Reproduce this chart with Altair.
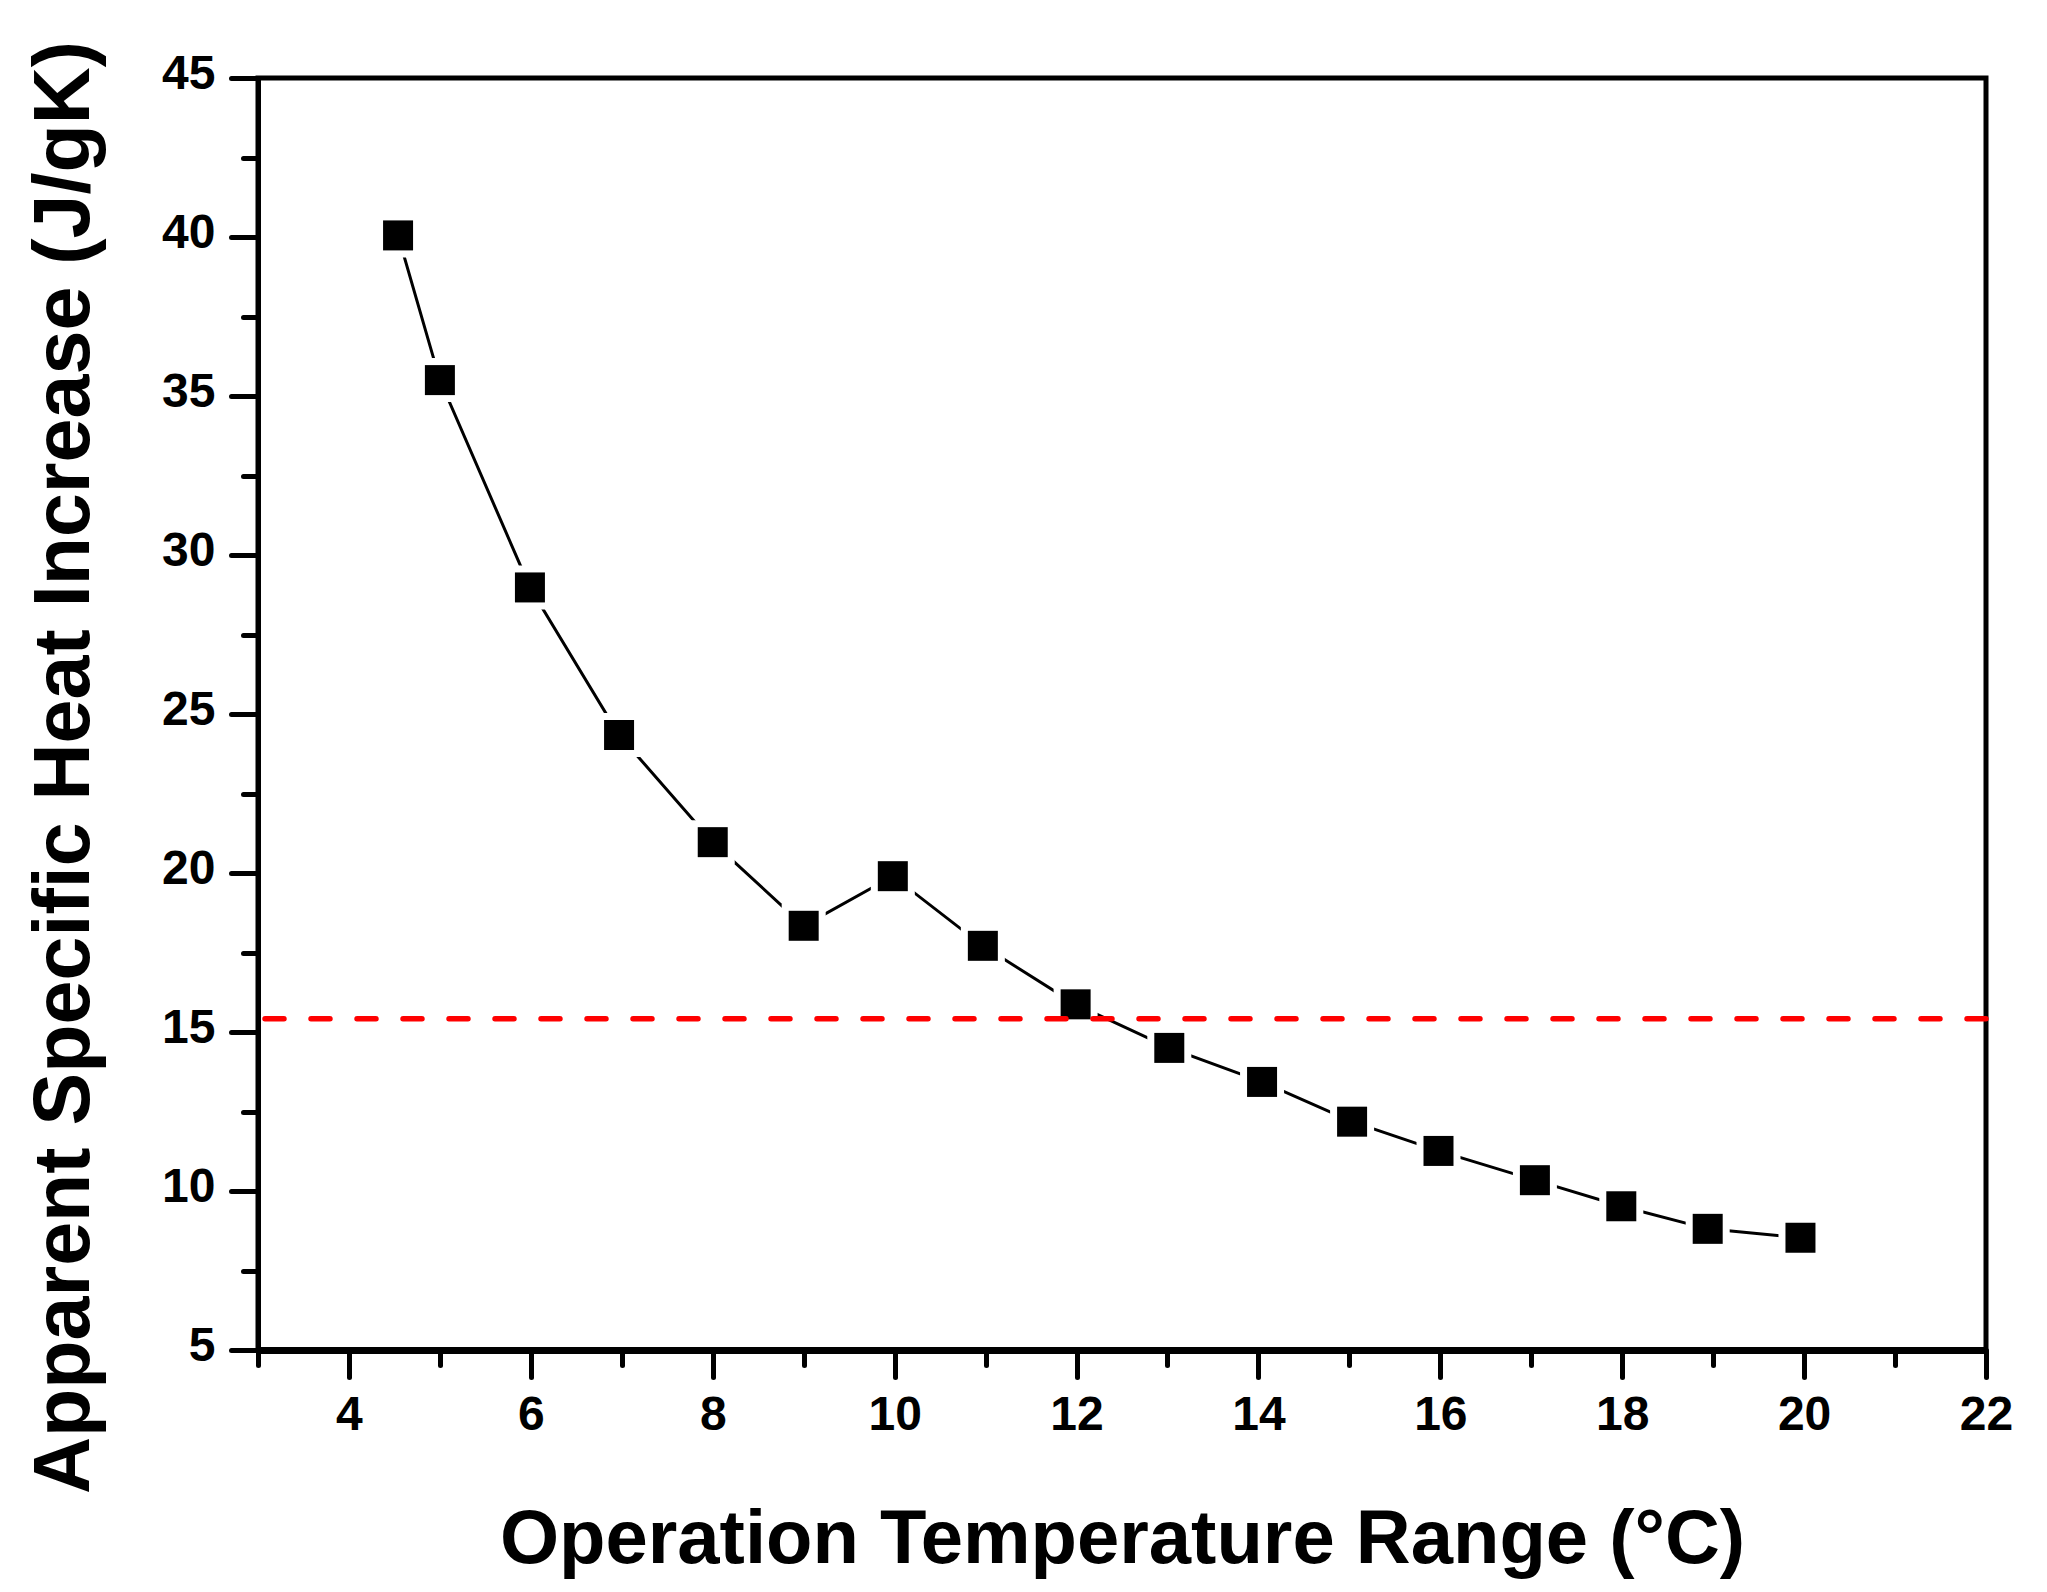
import altair as alt
import pandas as pd

# Data
temp_range = [4.54, 5.0, 5.99, 6.97, 8.0, 9.0, 9.98, 10.97, 11.99, 13.02,
              14.04, 15.03, 15.98, 17.04, 17.99, 18.94, 19.96]
heat_increase = [40.05, 35.5, 28.98, 24.34, 20.97, 18.34, 19.9, 17.71, 15.87, 14.5,
                 13.43, 12.18, 11.26, 10.34, 9.52, 8.81, 8.53]
reference_level = [15.42]

x_major = [4, 6, 8, 10, 12, 14, 16, 18, 20, 22]
x_minor = [3, 5, 7, 9, 11, 13, 15, 17, 19, 21]
y_major = [5, 10, 15, 20, 25, 30, 35, 40, 45]
y_minor = [7.5, 12.5, 17.5, 22.5, 27.5, 32.5, 37.5, 42.5]

x_title = "Operation Temperature Range (°C)"
y_title = "Apparent Specific Heat Increase (J/gK)"

df = pd.DataFrame({"t": temp_range, "c": heat_increase})
ref = pd.DataFrame({"c": reference_level})

FONT = "Liberation Sans"
W, H = 1728, 1272

xscale = alt.Scale(domain=[3, 22], nice=False, zero=False)
yscale = alt.Scale(domain=[5, 45], nice=False, zero=False)

x_major_axis = alt.Axis(values=x_major, tickSize=27, tickWidth=5, tickCap="round",
                        domainWidth=7, domainColor="black", tickColor="black",
                        labelFont=FONT, labelFontWeight="bold", labelFontSize=48,
                        labelColor="black", labelPadding=14, labelFlush=False,
                        labelOverlap=False, grid=False, format="d",
                        title=x_title, titleFont=FONT, titleFontWeight="bold",
                        titleFontSize=76, titleColor="black",
                        titleBaseline="alphabetic", titleY=212, orient="bottom")
y_major_axis = alt.Axis(values=y_major, tickSize=27, tickWidth=5, tickCap="round",
                        domainWidth=5, domainColor="black", tickColor="black",
                        labelFont=FONT, labelFontWeight="bold", labelFontSize=48,
                        labelColor="black", labelPadding=16, labelOffset=-4,
                        labelFlush=False, labelOverlap=False, grid=False, format="d",
                        title=y_title, titleFont=FONT, titleFontWeight="bold",
                        titleFontSize=79, titleColor="black", titleAngle=270,
                        titleBaseline="alphabetic", titleAlign="center",
                        titleX=-170, titleY=689, orient="left")

x_minor_axis = alt.Axis(values=x_minor, tickSize=15, tickWidth=5, tickCap="round",
                        tickColor="black", labels=False, domain=False, grid=False,
                        title=None, orient="bottom")
y_minor_axis = alt.Axis(values=y_minor, tickSize=15, tickWidth=5, tickCap="round",
                        tickColor="black", labels=False, domain=False, grid=False,
                        title=None, orient="left")

line = alt.Chart(df).mark_line(color="black", strokeWidth=3).encode(
    x=alt.X("t:Q", scale=xscale, axis=x_major_axis),
    y=alt.Y("c:Q", scale=yscale, axis=y_major_axis),
)

gaps = alt.Chart(df).mark_point(shape="square", filled=True, color="white",
                                opacity=1, size=1936).encode(
    x=alt.X("t:Q", scale=xscale, axis=x_minor_axis),
    y=alt.Y("c:Q", scale=yscale, axis=y_minor_axis),
)

points = alt.Chart(df).mark_point(shape="square", filled=True, color="black",
                                  opacity=1, size=900).encode(
    x=alt.X("t:Q", scale=xscale, axis=None),
    y=alt.Y("c:Q", scale=yscale, axis=None),
)

rule = alt.Chart(ref).mark_rule(color="#ff0000", strokeWidth=5.5,
                                strokeDash=[19, 27], strokeCap="round").encode(
    y=alt.Y("c:Q", scale=yscale, axis=None),
)

chart = alt.layer(line, gaps, points, rule).resolve_axis(
    x="independent", y="independent"
).properties(
    width=W, height=H,
    autosize=alt.AutoSizeParams(type="none"),
    padding={"left": 250, "top": 70, "right": 50, "bottom": 240},
    background="white",
).configure_view(
    stroke="black", strokeWidth=5
)

chart.save("out.html", embed_options={"renderer": "svg", "actions": False})
